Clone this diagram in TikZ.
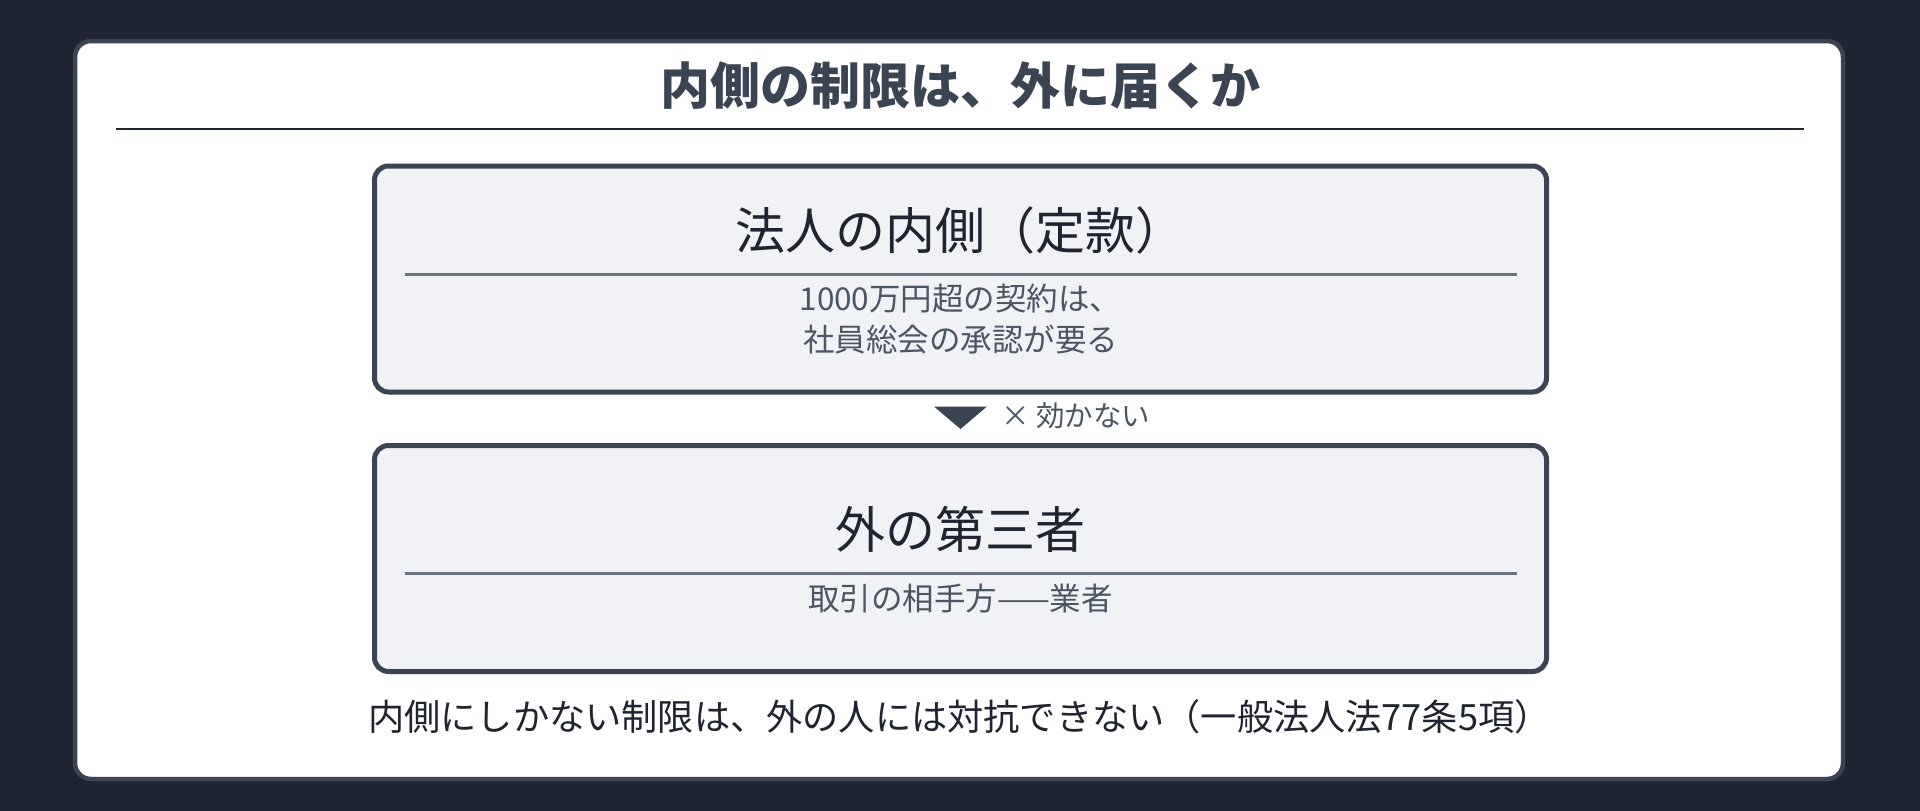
\documentclass[tikz,border=0pt]{standalone}
\usepackage{fontspec}
\setmainfont{Noto Sans CJK JP}
\usetikzlibrary{positioning}
\definecolor{pagebg}{RGB}{30,37,48}
\definecolor{slate}{RGB}{59,68,82}
\definecolor{boxfill}{RGB}{240,242,245}
\definecolor{inkdark}{RGB}{31,36,48}
\definecolor{inkgray}{RGB}{75,85,99}
\definecolor{rulegray}{RGB}{107,114,128}
\tikzstyle{card} = [draw=slate, line width=4.5pt, fill=white, rounded corners=16pt]
\tikzstyle{layerbox} = [rectangle, rounded corners=14pt, minimum width=1172pt, minimum height=226pt, draw=slate, fill=boxfill, line width=5pt]
\tikzstyle{boxtitle} = [text=inkdark, font=\fontsize{50}{60}\selectfont, inner sep=0pt]
\tikzstyle{boxnote} = [text=inkgray, font=\fontsize{31.5}{41}\selectfont, align=center, inner sep=0pt]
\tikzstyle{innerrule} = [rulegray, line width=3pt]

\begin{document}
\begin{tikzpicture}[x=1pt, y=1pt, node distance=279.5pt]

\fill [pagebg] (0,0) rectangle (1920,-811);
\useasboundingbox (0,0) rectangle (1920,-811);
\draw [card] (75,-41) rectangle (1843,-779);

\node (title) [text=slate, font=\fontsize{50}{60}\selectfont\bfseries, inner sep=0pt] at (960,-86) {内側の制限は、外に届くか};
\draw [inkdark, line width=2.5pt] (116,-129) -- (1804,-129);

\node (inside) [layerbox] at (960.5,-279) {};
\node (outside) [layerbox, below of=inside] {};

% inside box
\node (insidetitle) [boxtitle] at (960.5,-230) {法人の内側（定款）};
\draw [innerrule] ([xshift=-556pt]inside.center |- 0,-274) -- ([xshift=556pt]inside.center |- 0,-274);
\node (insidenote) [boxnote] at (960.5,-319.5) {1000万円超の契約は、\\社員総会の承認が要る};

% outside box
\node (outsidetitle) [boxtitle] at (960.5,-529) {外の第三者};
\draw [innerrule] ([xshift=-556pt]outside.center |- 0,-573) -- ([xshift=556pt]outside.center |- 0,-573);
\node (outsidenote) [boxnote] at (960.5,-599) {取引の相手方——業者};

\fill [slate] ([xshift=-26.5pt, yshift=-12pt]inside.south) -- ([xshift=26.5pt, yshift=-12pt]inside.south) -- ([yshift=14pt]outside.north) -- cycle;
\node (noeffect) [text=inkgray, font=\fontsize{28.5}{34}\selectfont, anchor=west, inner sep=0pt] at (1001,-416) {× 効かない};

\node (summary) [text=inkdark, font=\fontsize{36.2}{44}\selectfont, anchor=west, inner sep=0pt] at (368,-717) {内側にしかない制限は、外の人には対抗できない（一般法人法77条5項）};

\end{tikzpicture}
\end{document}
